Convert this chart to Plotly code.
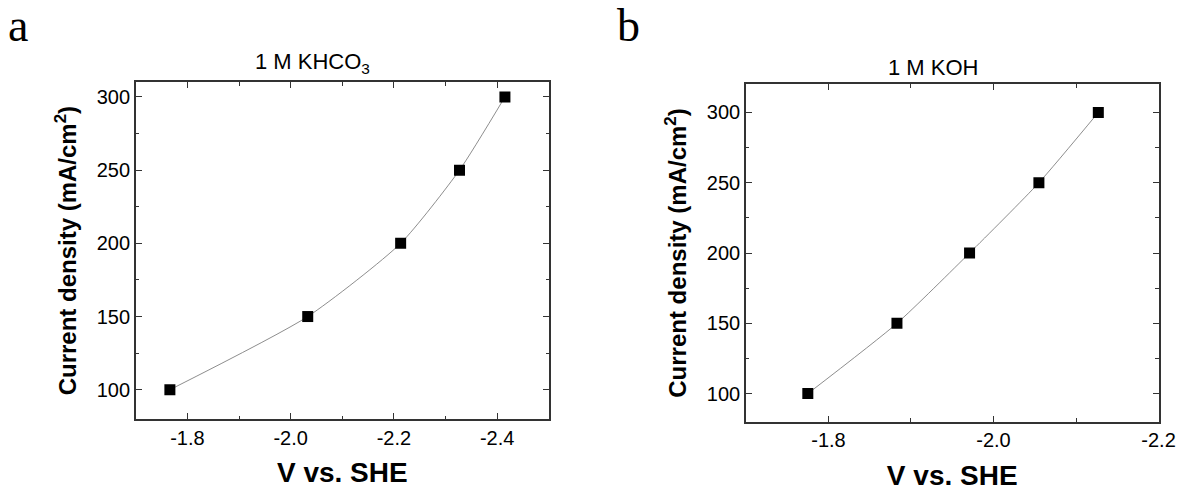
import plotly.graph_objects as go

# Panel a: 1 M KHCO3
v_khco3 = [-1.766, -2.033, -2.213, -2.327, -2.415]
j_khco3 = [100, 150, 200, 250, 300]
# Panel b: 1 M KOH
v_koh = [-1.775, -1.883, -1.971, -2.055, -2.127]
j_koh = [100, 150, 200, 250, 300]

x_ticks_a = [-1.8, -2.0, -2.2, -2.4]
x_ticks_b = [-1.8, -2.0, -2.2]
y_ticks = [100, 150, 200, 250, 300]

FONT = "Liberation Sans, Arial, sans-serif"
SERIF = "Liberation Serif, Times New Roman, serif"
AX = "#333333"

fig = go.Figure()

line_style = dict(color="#707070", width=0.8, shape="spline", smoothing=0.6)
marker_style = dict(symbol="square", size=11, color="black")

fig.add_trace(go.Scatter(x=v_khco3, y=j_khco3, mode="lines+markers",
                         line=line_style, marker=marker_style,
                         xaxis="x", yaxis="y", showlegend=False))
fig.add_trace(go.Scatter(x=v_koh, y=j_koh, mode="lines+markers",
                         line=line_style, marker=marker_style,
                         xaxis="x2", yaxis="y2", showlegend=False))

def xax(domain, rng, ticks, anchor):
    return dict(domain=domain, range=rng, anchor=anchor,
                tickvals=ticks, ticktext=[f"{t:.1f}" for t in ticks],
                showline=True, linecolor=AX, linewidth=1.5, mirror="allticks",
                ticks="inside", ticklen=6, tickwidth=1.2, tickcolor=AX,
                minor=dict(ticks="inside", ticklen=3.5, tickwidth=1.2, tickcolor=AX, dtick=0.1, tick0=-1.8),
                showgrid=False, zeroline=False,
                tickfont=dict(family=FONT, size=20, color="black"),
                title=dict(text="<b>V vs. SHE</b>", font=dict(family=FONT, size=28, color="black"), standoff=15))

def yax(domain, rng, anchor):
    return dict(domain=domain, range=rng, anchor=anchor,
                tickvals=y_ticks,
                showline=True, linecolor=AX, linewidth=1.5, mirror="allticks",
                ticks="inside", ticklen=6, tickwidth=1.2, tickcolor=AX,
                minor=dict(ticks="inside", ticklen=3.5, tickwidth=1.2, tickcolor=AX, dtick=25, tick0=0),
                showgrid=False, zeroline=False,
                tickfont=dict(family=FONT, size=20, color="black"),
                title=dict(text="<b>Current density (mA/cm<sup>2</sup>)</b>",
                           font=dict(family=FONT, size=24, color="black"), standoff=13))

fig.update_layout(
    width=1198, height=491,
    margin=dict(l=0, r=0, t=0, b=0),
    paper_bgcolor="white", plot_bgcolor="white",
    xaxis=xax([0.115, 0.4647], [-1.7, -2.5], x_ticks_a, "y"),
    yaxis=yax([0.1466, 0.8324], [80, 310], "x"),
    xaxis2=xax([0.6316, 0.981], [-1.7, -2.2], x_ticks_b, "y2"),
    yaxis2=yax([0.1411, 0.8283], [80, 320], "x2"),
    annotations=[
        dict(text="1 M KHCO<sub>3</sub>", x=317/1198, y=1-63/491, xref="paper", yref="paper",
             showarrow=False, font=dict(family=FONT, size=22, color="black"), xanchor="center", yanchor="middle"),
        dict(text="1 M KOH", x=946/1198, y=1-67/491, xref="paper", yref="paper",
             showarrow=False, font=dict(family=FONT, size=22, color="black"), xanchor="center", yanchor="middle"),
        dict(text="a", x=6/1198, y=1-26/491, xref="paper", yref="paper",
             showarrow=False, font=dict(family=SERIF, size=46, color="black"),
             xanchor="left", yanchor="middle"),
        dict(text="b", x=624/1198, y=1-26/491, xref="paper", yref="paper",
             showarrow=False, font=dict(family=SERIF, size=46, color="black"),
             xanchor="left", yanchor="middle"),
    ],
)

fig.write_html("out.html")
